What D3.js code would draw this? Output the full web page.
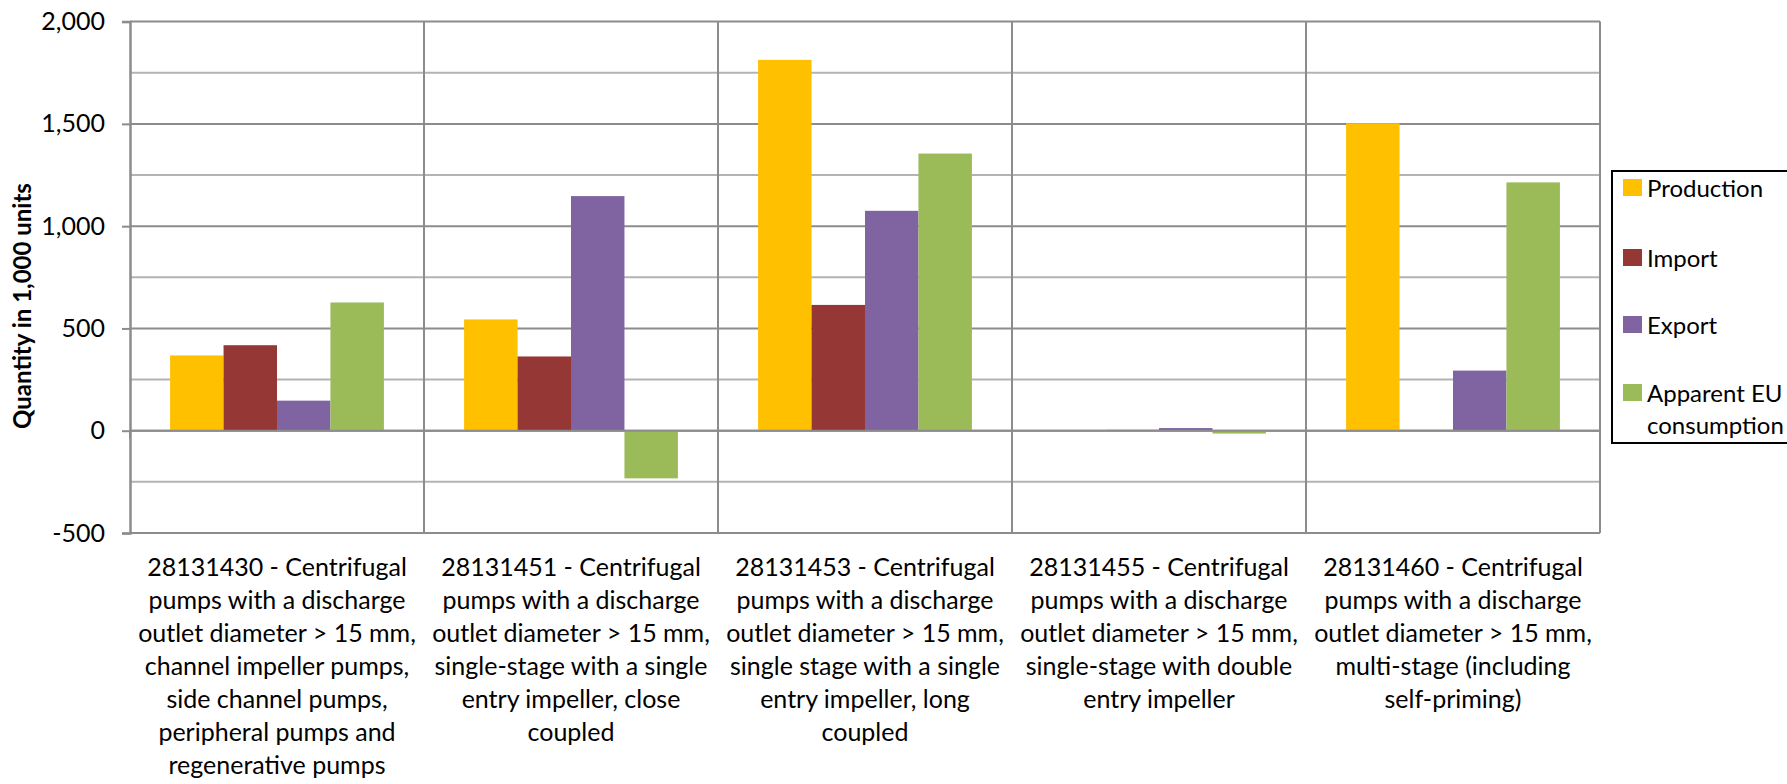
<!DOCTYPE html>
<html>
<head>
<meta charset="utf-8">
<script src="https://cdn.jsdelivr.net/npm/d3@7"></script>
<style>
  body { margin: 0; background: #fff; }
  text { font-family: Lato, "Open Sans", sans-serif; fill: #000; }
</style>
</head>
<body>
<script>
// category labels, already broken into lines as in the original
var categories = [
  ["28131430 - Centrifugal", "pumps with a discharge", "outlet diameter > 15 mm,", "channel impeller pumps,", "side channel pumps,", "peripheral pumps and", "regenerative pumps"],
  ["28131451 - Centrifugal", "pumps with a discharge", "outlet diameter > 15 mm,", "single-stage with a single", "entry impeller, close", "coupled"],
  ["28131453 - Centrifugal", "pumps with a discharge", "outlet diameter > 15 mm,", "single stage with a single", "entry impeller, long", "coupled"],
  ["28131455 - Centrifugal", "pumps with a discharge", "outlet diameter > 15 mm,", "single-stage with double", "entry impeller"],
  ["28131460 - Centrifugal", "pumps with a discharge", "outlet diameter > 15 mm,", "multi-stage (including", "self-priming)"]
];

var series = ["Production", "Import", "Export", "Apparent EU consumption"];
var colors = ["#FFC000", "#953735", "#8064A2", "#9BBB59"];

var production = [368, 544, 1813, 3, 1503];
var imports = [418, 363, 615, 4, 4];
var exports = [147, 1147, 1075, 13, 294];
var consumption = [627, -233, 1355, -14, 1214];

var yTicks = [-500, 0, 500, 1000, 1500, 2000];
var yMinor = [-250, 250, 750, 1250, 1750];

var width = 1787,
  height = 784;

var values = [production, imports, exports, consumption];

var svg = d3.select("body").append("svg").attr("width", width).attr("height", height);

var plotLeft = 130,
  plotRight = 1600,
  plotTop = 21.6,
  plotBottom = 533;

var x = d3.scaleBand().domain(d3.range(categories.length)).range([plotLeft, plotRight]);
var bw = x.bandwidth();
var gap = bw * 1.5 / 5.5;
var x1 = d3.scaleBand().domain(d3.range(series.length)).range([gap / 2, bw - gap / 2]);

var y = d3.scaleLinear().domain([-500, 2000]).range([plotBottom, plotTop]);

// minor gridlines
svg.append("g").selectAll("line").data(yMinor).join("line")
  .attr("x1", plotLeft).attr("x2", plotRight)
  .attr("y1", function (d) { return y(d); })
  .attr("y2", function (d) { return y(d); })
  .attr("stroke", "#b3b3b3").attr("stroke-width", 2);

// major gridlines
svg.append("g").selectAll("line").data(yTicks).join("line")
  .attr("x1", plotLeft).attr("x2", plotRight)
  .attr("y1", function (d) { return y(d); })
  .attr("y2", function (d) { return y(d); })
  .attr("stroke", "#8c8c8c").attr("stroke-width", 2);

// vertical gridlines between categories
var bounds = d3.range(categories.length + 1).map(function (i) {
  return i < categories.length ? x(i) : plotRight;
});
svg.append("g").selectAll("line").data(bounds.slice(1)).join("line")
  .attr("x1", function (d) { return d; }).attr("x2", function (d) { return d; })
  .attr("y1", plotTop).attr("y2", plotBottom)
  .attr("stroke", "#8c8c8c").attr("stroke-width", 2);

// bars
var groups = svg.append("g").selectAll("g").data(values).join("g")
  .attr("fill", function (d, i) { return colors[i]; });

groups.each(function (vals, si) {
  d3.select(this).selectAll("rect").data(vals).join("rect")
    .attr("x", function (d, ci) { return x(ci) + x1(si); })
    .attr("width", x1.bandwidth())
    .attr("y", function (d) { return Math.min(y(d), y(0)); })
    .attr("height", function (d) { return Math.max(1, Math.abs(y(d) - y(0))); });
});

// zero line drawn over bars
svg.append("line")
  .attr("x1", plotLeft).attr("x2", plotRight)
  .attr("y1", y(0)).attr("y2", y(0))
  .attr("stroke", "#8c8c8c").attr("stroke-width", 2);

// category tick marks on the zero line
svg.append("g").selectAll("line").data(bounds).join("line")
  .attr("x1", function (d) { return d; }).attr("x2", function (d) { return d; })
  .attr("y1", y(0)).attr("y2", y(0) + 8)
  .attr("stroke", "#8c8c8c").attr("stroke-width", 2);

// y axis (plain hyphen for negatives, as in the original)
var fmt = d3.formatLocale({ decimal: ".", thousands: ",", grouping: [3], currency: ["", ""], minus: "-" }).format(",");
var yAxis = svg.append("g")
  .attr("transform", "translate(" + plotLeft + ",0)")
  .call(d3.axisLeft(y).tickValues(yTicks).tickSize(8).tickPadding(17).tickFormat(fmt));
yAxis.select(".domain").attr("stroke", "#8c8c8c").attr("stroke-width", 2.5);
yAxis.selectAll(".tick line").attr("stroke", "#8c8c8c").attr("stroke-width", 2);
yAxis.selectAll(".tick text").attr("font-size", 25).attr("font-family", "Lato").attr("fill", "#000");

// y axis title
svg.append("text")
  .attr("transform", "translate(31,306) rotate(-90)")
  .attr("text-anchor", "middle")
  .attr("font-size", 24)
  .attr("font-weight", "bold")
  .text("Quantity in 1,000 units");

// category labels
svg.append("g").selectAll("text").data(categories).join("text")
  .attr("text-anchor", "middle")
  .attr("font-size", 25)
  .each(function (lines, i) {
    d3.select(this).selectAll("tspan").data(lines).join("tspan")
      .attr("x", x(i) + bw / 2)
      .attr("y", function (d, k) { return 576 + k * 33; })
      .text(function (d) { return d; });
  });

// legend
var legend = svg.append("g");
legend.append("rect")
  .attr("x", 1612).attr("y", 171)
  .attr("width", 200).attr("height", 272)
  .attr("fill", "#fff").attr("stroke", "#000").attr("stroke-width", 2);

var legendY = [188, 258, 325, 393];
var item = legend.selectAll("g.item").data(series).join("g").attr("class", "item")
  .attr("transform", function (d, i) { return "translate(1623," + legendY[i] + ")"; });
item.append("rect")
  .attr("x", 0).attr("y", -9).attr("width", 19).attr("height", 17)
  .attr("fill", function (d, i) { return colors[i]; });
item.append("text")
  .attr("x", 24)
  .attr("font-size", 24)
  .each(function (d) {
    var words = d === "Apparent EU consumption" ? ["Apparent EU", "consumption"] : [d];
    d3.select(this).selectAll("tspan").data(words).join("tspan")
      .attr("x", 24)
      .attr("dy", function (w, k) { return k === 0 ? "0.36em" : "1.33em"; })
      .text(function (w) { return w; });
  });
</script>
</body>
</html>
